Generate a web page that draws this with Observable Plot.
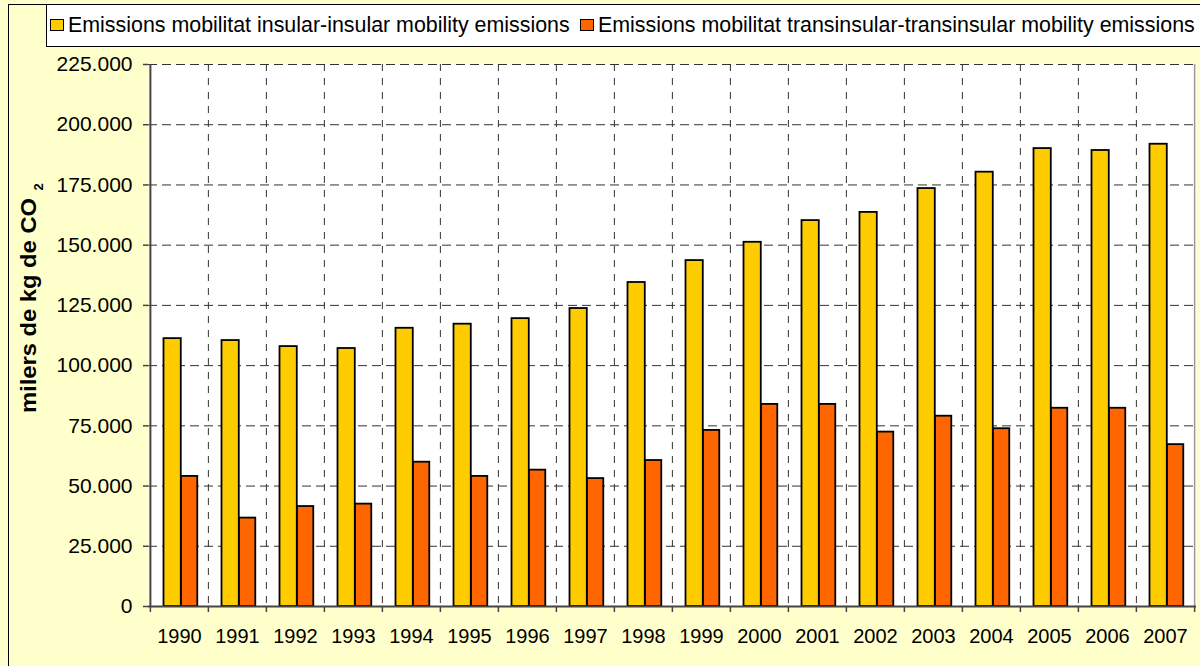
<!DOCTYPE html>
<html>
<head>
<meta charset="utf-8">
<script src="https://cdn.jsdelivr.net/npm/d3@7"></script>
<script src="https://cdn.jsdelivr.net/npm/@observablehq/plot@0.6"></script>
<style>
  html, body { margin: 0; padding: 0; background: #FFFFCC; }
  #chart { position: relative; width: 1200px; height: 666px; overflow: hidden; background: #FFFFCC;
           font-family: "Liberation Sans", Arial, sans-serif; }
  #outer { position: absolute; left: 8px; top: 4px; width: 1300px; height: 800px;
           border-left: 1.5px solid #000; border-top: 1.5px solid #000; box-sizing: border-box; }
  #legend { position: absolute; left: 46px; top: 4px; width: 1300px; height: 43px; background: #fff;
            border: 1.5px solid #000; box-sizing: border-box; }
  .item { position: absolute; top: 0; height: 40px; display: flex; align-items: center; font-size: 21.4px; color: #000; white-space: nowrap; }
  .sw { width: 12px; height: 10px; border: 1.5px solid #000; margin-right: 4px; }
  #plot { position: absolute; left: 0; top: 0; }
</style>
</head>
<body>
<div id="chart">
  <div id="outer"></div>
  <div id="legend"></div>
  <div id="plot"></div>
</div>
<script>
const years = ["1990","1991","1992","1993","1994","1995","1996","1997","1998","1999","2000","2001","2002","2003","2004","2005","2006","2007"];
const insular = [111200,110400,107900,107100,115500,117200,119500,123700,134500,143600,151200,160200,163600,173500,180300,190100,189300,191900];
const transinsular = [54000,36700,41500,42500,59900,54000,56600,53100,60600,73100,83900,83900,72400,79000,73800,82300,82300,67200];
const seriesNames = ["Emissions mobilitat insular-insular mobility emissions","Emissions mobilitat transinsular-transinsular mobility emissions"];
const seriesColors = ["#FFCC00","#FF6600"];
const yTicks = [0,25000,50000,75000,100000,125000,150000,175000,200000,225000];
const yTitle = "milers de kg de CO";
const yTitleSub = "2";

const data = years.map((year, i) => ({year, insular: insular[i], trans: transinsular[i]}));

const W = 1200, H = 666, mL = 148, mR = 4, mT = 64, mB = 60;
const bw = (W - mL - mR) / years.length;
const fmt = d => d3.format(",")(d).replace(/,/g, ".");

// legend
const legend = document.getElementById("legend");
const legendX = [3, 533];
seriesNames.forEach((name, i) => {
  const it = document.createElement("div");
  it.className = "item";
  it.style.left = legendX[i] + "px";
  const sw = document.createElement("div");
  sw.className = "sw";
  sw.style.background = seriesColors[i];
  it.appendChild(sw);
  const t = document.createElement("span");
  t.textContent = name;
  it.appendChild(t);
  legend.appendChild(it);
});

const chart = Plot.plot({
  width: W, height: H,
  marginLeft: mL, marginRight: mR, marginTop: mT, marginBottom: mB,
  style: {background: "transparent", fontFamily: "Liberation Sans, Arial, sans-serif", color: "#000", overflow: "visible"},
  x: {type: "band", domain: years, padding: 0, axis: null},
  y: {domain: [0, 225000], axis: null},
  marks: [
    Plot.frame({fill: "white", stroke: null}),
    Plot.ruleY(yTicks.slice(1), {y: d => d, stroke: "#333", strokeWidth: 1, strokeDasharray: "9,5"}),
    Plot.ruleX(years.slice(1), {x: d => d, dx: -bw / 2, stroke: "#333", strokeWidth: 1, strokeDasharray: "7,7"}),
    Plot.barY(data, {x: "year", y: "insular", fill: seriesColors[0], stroke: "#000", strokeWidth: 1.8,
      insetLeft: 13.5, insetRight: bw - 13.5 - 17.5}),
    Plot.barY(data, {x: "year", y: "trans", fill: seriesColors[1], stroke: "#000", strokeWidth: 1.8,
      insetLeft: 31, insetRight: bw - 31 - 16.5}),
    Plot.ruleX([years[years.length - 1]], {x: d => d, dx: bw / 2, stroke: "#999", strokeWidth: 1.5}),
    Plot.ruleY([0], {stroke: "#444", strokeWidth: 2}),
    Plot.ruleX([years[0]], {x: d => d, dx: -bw / 2, stroke: "#444", strokeWidth: 2}),
    // x ticks at category boundaries
    Plot.ruleX(years, {x: d => d, y1: 0, y2: 0, dx: -bw / 2, insetBottom: -6, stroke: "#444", strokeWidth: 1.5}),
    Plot.ruleX([years[years.length - 1]], {x: d => d, y1: 0, y2: 0, dx: bw / 2, insetBottom: -6, stroke: "#444", strokeWidth: 1.5}),
    Plot.axisY({ticks: yTicks, tickSize: 5, tickPadding: 11, tickFormat: fmt, fontSize: 21, stroke: "#444", strokeWidth: 1.5, label: null}),
    Plot.axisX({tickSize: 0, tickPadding: 22, fontSize: 20, label: null})
  ]
});
document.getElementById("plot").appendChild(chart);

// y-axis title with subscript
const svg = d3.select(chart);
const t = svg.append("text")
  .attr("transform", "translate(36,413) rotate(-90) scale(1.08,1)")
  .attr("text-anchor", "start")
  .attr("font-family", "Liberation Sans, Arial, sans-serif")
  .attr("font-weight", "bold")
  .attr("font-size", 22)
  .attr("fill", "#000");
t.append("tspan").text(yTitle);
t.append("tspan").attr("dx", 7).attr("dy", 7).attr("font-size", 12).text(yTitleSub);
</script>
</body>
</html>
